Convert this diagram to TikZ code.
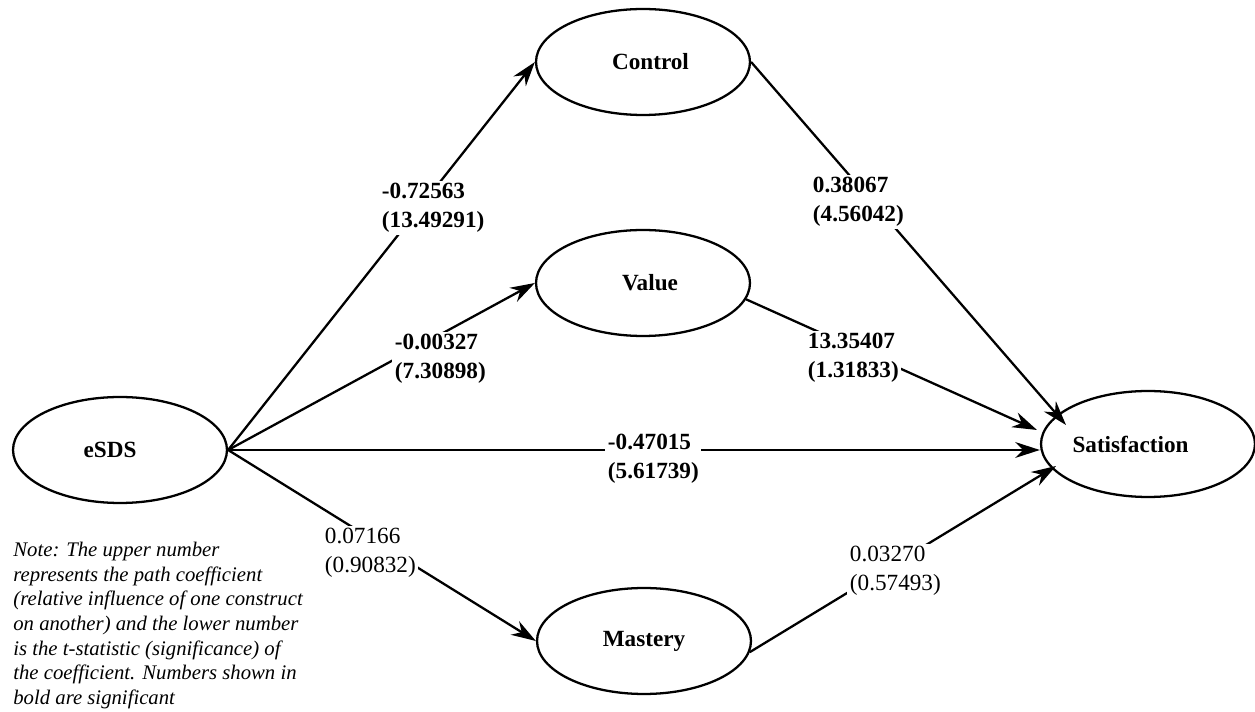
\documentclass[tikz,border=0pt]{standalone}
\usepackage{fontspec}
\setmainfont{Liberation Serif}
\usetikzlibrary{arrows.meta,shapes.geometric,calc}

\begin{document}
\begin{tikzpicture}[
  x=0.02cm, y=-0.02cm,
  >={Stealth[length=14pt, width=9pt, inset=4.5pt]},
  construct/.style={draw, ellipse, line width=1.3pt, minimum width=4.28cm, minimum height=2.12cm, inner sep=0pt, font=\fontsize{13.2}{16}\selectfont\bfseries},
  link/.style={->, line width=1.3pt},
  coef/.style={anchor=west, fill=white, inner sep=1.5pt, align=left, font=\fontsize{13.2}{16.5}\selectfont},
  sig/.style={coef, font=\fontsize{13.2}{16.5}\selectfont\bfseries},
  note/.style={anchor=north west, inner sep=0pt, align=left, font=\fontsize{11.8}{14}\selectfont\itshape}]
  \useasboundingbox (0,0) rectangle (1255,712);

  \node[construct] (esds) at (120,450) {\hspace{-0.4cm}eSDS};
  \node[construct] (ctrl) at (643,62) {\hspace{0.3cm}Control};
  \node[construct] (value) at (643,283) {\hspace{0.28cm}Value};
  \node[construct] (mastery) at (644,641) {Mastery};
  \node[construct] (sat) at (1148,444) {\hspace{-0.7cm}Satisfaction};

  \draw[link] (esds.east) -- (ctrl.west);
  \draw[link] (esds.east) -- (value.west);
  \draw[link] (esds.east) -- (esds.east -| sat.west);
  \draw[link] (esds.east) -- (mastery.west);
  \draw[link] (ctrl.east) -- ($(sat)+(-82,-19)$);
  \draw[link] (value.-9) -- ($(sat)+(-111,-14)$);
  \draw[link] (mastery.-6) -- ($(sat)+(-92,22)$);

  \node[sig] (c-ctrl) at (379,208) {-0.72563\\(13.49291)};
  \node[sig] (c-value) at (392,359) {-0.00327\\(7.30898)};
  \node[sig] (c-direct) at (605,459) {-0.47015\\(5.61739)};
  \node[coef] (c-mastery) at (322,553) {0.07166\\(0.90832)};
  \node[sig] (ctrl-sat) at (810,202) {0.38067\\(4.56042)};
  \node[sig] (value-sat) at (805,358) {13.35407\\(1.31833)};
  \node[coef] (mastery-sat) at (847,571) {0.03270\\(0.57493)};

  \node[note] (notes) at (13,542) {Note: The upper number\\represents the path coefficient\\(relative influence of one construct\\on another) and the lower number\\is the t-statistic (significance) of\\the coefficient. Numbers shown in\\bold are significant};
\end{tikzpicture}
\end{document}
